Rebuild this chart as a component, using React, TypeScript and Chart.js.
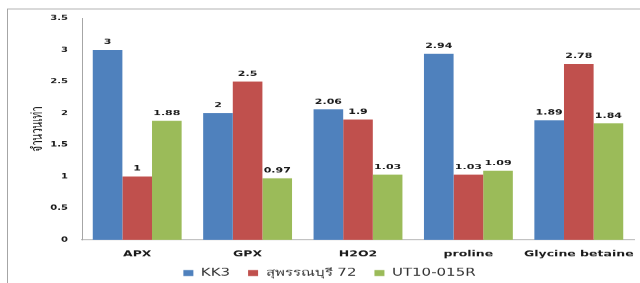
import React, { useEffect, useRef } from "react";
import { Chart, registerables } from "chart.js";

Chart.register(...registerables);

const categories = ["APX", "GPX", "H2O2", "proline", "Glycine betaine"];
const seriesNames = ["KK3", "สุพรรณบุรี 72", "UT10-015R"];
const kk3 = [3, 2, 2.06, 2.94, 1.89];
const suphanburi72 = [1, 2.5, 1.9, 1.03, 2.78];
const ut10 = [1.88, 0.97, 1.03, 1.09, 1.84];
const seriesColors = ["#4F81BD", "#C0504D", "#9BBB59"];
const yTitle = "จำนวนเท่า";
const yMin = 0;
const yMax = 3.5;
const yStep = 0.5;

const W = 640;
const H_SCREEN = 283;
const H = 425;
const SY = H_SCREEN / H;

const FONT = "'DejaVu Sans', 'Noto Sans', sans-serif";

const frameAndLabels = {
  id: "frameAndLabels",
  afterDatasetsDraw(chart: any) {
    const ctx = chart.ctx;
    ctx.save();
    ctx.font = `bold 11px ${FONT}`;
    ctx.fillStyle = "#1a1a1a";
    ctx.textAlign = "center";
    ctx.textBaseline = "bottom";
    chart.data.datasets.forEach((ds: any, di: number) => {
      const meta = chart.getDatasetMeta(di);
      meta.data.forEach((el: any, i: number) => {
        const v = ds.data[i];
        ctx.fillText(String(v), el.x, el.y - 6);
      });
    });
    ctx.restore();
  },
  afterDraw(chart: any) {
    const ctx = chart.ctx;
    ctx.save();
    ctx.strokeStyle = "#A6A6A6";
    ctx.lineWidth = 1.5;
    ctx.beginPath();
    ctx.moveTo(7, 13.5);
    ctx.lineTo(W, 13.5);
    ctx.stroke();
    ctx.lineWidth = 1;
    ctx.beginPath();
    ctx.moveTo(7.5, 13.5);
    ctx.lineTo(7.5, H);
    ctx.stroke();
    ctx.restore();
  },
};

export default function App() {
  const ref = useRef<HTMLCanvasElement | null>(null);
  useEffect(() => {
    if (!ref.current) return;
    const data = [kk3, suphanburi72, ut10];
    const chart = new Chart(ref.current, {
      type: "bar",
      data: {
        labels: categories,
        datasets: seriesNames.map((n, i) => ({
          label: n,
          data: data[i],
          backgroundColor: seriesColors[i],
          borderWidth: 0,
          categoryPercentage: 0.805,
          barPercentage: 1,
        })),
      },
      options: {
        animation: false,
        responsive: false,
        devicePixelRatio: 1,
        layout: { padding: { left: 25, right: 6, top: 27.5, bottom: -2.5 } },
        plugins: {
          tooltip: { enabled: false },
          legend: {
            position: "bottom",
            labels: {
              boxWidth: 10,
              boxHeight: 9,
              padding: 18,
              color: "#333",
              font: { family: FONT, size: 15 },
            },
          },
        },
        scales: {
          x: {
            grid: { display: false, drawTicks: false },
            border: { display: true, color: "#BFBFBF", width: 1.5 },
            ticks: {
              color: "#1a1a1a",
              padding: 14,
              autoSkip: false,
              maxRotation: 0,
              minRotation: 0,
              font: { family: FONT, size: 12.5, weight: "bold" },
            },
            afterFit(s: any) {
              s.height = 24.5;
              s.paddingLeft = 0;
              s.paddingRight = 0;
              s._computeLabelArea = () => undefined;
            },
          },
          y: {
            min: yMin,
            max: yMax,
            grid: { display: false, drawTicks: false },
            border: { display: true, color: "#A6A6A6", width: 1 },
            ticks: {
              stepSize: yStep,
              color: "#1a1a1a",
              padding: 14,
              font: { family: FONT, size: 10, weight: "bold" },
              callback: (v: any) => String(Number(v)),
            },
            title: {
              display: true,
              text: yTitle,
              color: "#1a1a1a",
              padding: { top: 4, bottom: 0 },
              font: { family: FONT, size: 15 },
            },
            afterFit(s: any) {
              s.width = 57;
            },
          },
        },
      },
      plugins: [frameAndLabels],
    });
    return () => chart.destroy();
  }, []);
  return (
    <div
      style={{
        position: "fixed",
        left: 0,
        top: 0,
        width: W,
        height: H_SCREEN,
        overflow: "hidden",
        background: "#fff",
      }}
    >
      <canvas
        ref={ref}
        width={W}
        height={H}
        style={{
          width: W,
          height: H,
          display: "block",
          transform: `scaleY(${SY})`,
          transformOrigin: "0 0",
        }}
      />
    </div>
  );
}
